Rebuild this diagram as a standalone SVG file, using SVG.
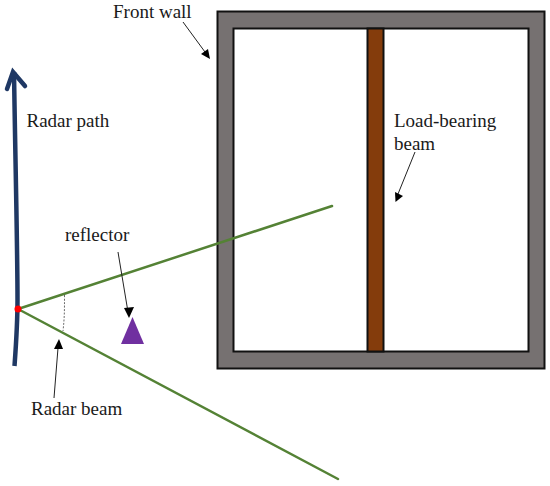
<svg xmlns="http://www.w3.org/2000/svg" width="550" height="486" viewBox="0 0 550 486">
<style>
.t{font-family:"Liberation Serif","Times New Roman",serif;font-size:19px;fill:#1a1a1a}
.b{stroke:#548235;stroke-width:2.5;fill:none;stroke-linecap:round}
.a{stroke:#222;stroke-width:1;fill:none}
.h{fill:#000;stroke:none}
</style>
<rect width="550" height="486" fill="#fff"/>
<g id="wall"><path d="M217.500 11.500H544.500V368.500H217.500ZM233.500 28.500V351.500H528.500V28.500Z" fill="#767171" fill-rule="evenodd" stroke="#111" stroke-width="2"/></g>
<g id="load-bearing-beam"><rect x="367.500" y="28.500" width="16" height="323" fill="#843c0c" stroke="#111" stroke-width="2"/></g>
<g id="reflector"><polygon points="132.500,317 144,344 121,344" fill="#7030a0"/></g>
<g id="connectors">
<path class="b" d="M18 309L332 206"/>
<path class="b" d="M18 309L338 479"/>
<path d="M64.500 295C64.500 310 64.500 318 63 331" stroke="#444" stroke-width="0.8" stroke-dasharray="2 1.500" fill="none"/>
<path d="M14.500 366C16 345 17.500 325 17.500 300C17.500 250 15.500 170 14 72" stroke="#1f3864" stroke-width="4.500" fill="none"/>
<path d="M7 89L13 72L25 86" stroke="#1f3864" stroke-width="4.500" fill="none" stroke-linecap="round" stroke-linejoin="miter"/>
<path class="a" d="M183 22L205 52"/><polygon class="h" points="210,59 201,54 208,49"/>
<path class="a" d="M415 152L398 194"/><polygon class="h" points="395.500,202 395,192 403,196"/>
<path class="a" d="M118 252L128 312"/><polygon class="h" points="129,318 124,308 134,307"/>
<path class="a" d="M54 398L58 348"/><polygon class="h" points="59,339 63,349 54,349"/>
</g>
<g id="radar-origin"><circle cx="18" cy="309" r="3.500" fill="#f00"/></g>
<g id="labels">
<text class="t" x="113" y="18">Front wall</text>
<text class="t" x="26.500" y="127">Radar path</text>
<text class="t" x="394" y="127">Load-bearing</text>
<text class="t" x="394" y="150">beam</text>
<text class="t" x="65" y="241">reflector</text>
<text class="t" x="31" y="415">Radar beam</text>
</g>
</svg>
